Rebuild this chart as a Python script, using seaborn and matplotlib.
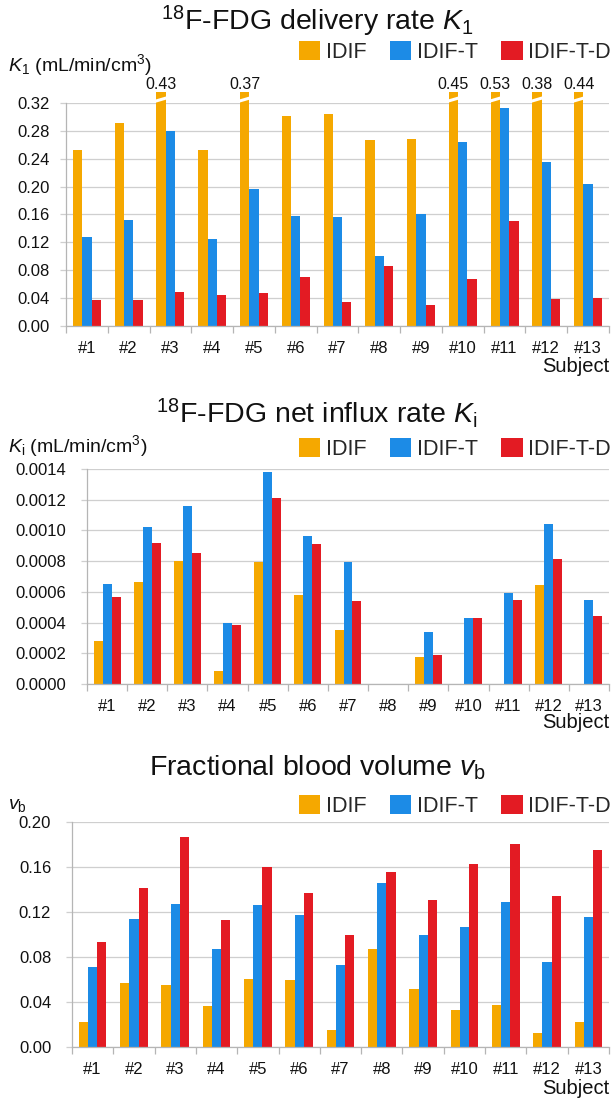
import numpy as np
import pandas as pd
import matplotlib
matplotlib.use("Agg")
import matplotlib.pyplot as plt
import seaborn as sns
from matplotlib.ticker import FormatStrFormatter, FixedLocator

# ---------------- data ----------------
subjects = [f"#{i}" for i in range(1, 14)]
methods = ["IDIF", "IDIF-T", "IDIF-T-D"]
colors = ["#F5A800", "#1C8BE6", "#E31B23"]

k1_idif = [0.253, 0.291, 0.43, 0.2525, 0.37, 0.302, 0.304, 0.267, 0.268, 0.45, 0.53, 0.38, 0.44]
k1_idif_t = [0.127, 0.152, 0.280, 0.125, 0.197, 0.158, 0.157, 0.100, 0.160, 0.264, 0.313, 0.235, 0.204]
k1_idif_t_d = [0.038, 0.0375, 0.049, 0.044, 0.048, 0.070, 0.035, 0.086, 0.030, 0.068, 0.151, 0.039, 0.040]

ki_idif = [0.000281, 0.000666, 0.000803, 0.0000846, 0.000793, 0.000577, 0.000353, 0.0, 0.000175, 0.0, 0.0, 0.000645, 0.0]
ki_idif_t = [0.000649, 0.00102, 0.00116, 0.000395, 0.00138, 0.000962, 0.000797, 0.0, 0.000338, 0.000429, 0.000592, 0.00104, 0.000545]
ki_idif_t_d = [0.000565, 0.00092, 0.000854, 0.000385, 0.00121, 0.000909, 0.000543, 0.0, 0.000188, 0.000433, 0.000548, 0.000814, 0.00044]

vb_idif = [0.0222, 0.0572, 0.0554, 0.0367, 0.0607, 0.0599, 0.0154, 0.0868, 0.0516, 0.0326, 0.0373, 0.0124, 0.0222]
vb_idif_t = [0.0711, 0.1138, 0.127, 0.0871, 0.126, 0.1176, 0.0729, 0.146, 0.0993, 0.107, 0.1286, 0.0753, 0.1156]
vb_idif_t_d = [0.0936, 0.1414, 0.1869, 0.113, 0.1597, 0.1372, 0.0996, 0.156, 0.1308, 0.163, 0.1805, 0.134, 0.1747]

titles = [r"$^{\mathrm{18}}$F-FDG delivery rate $\mathit{K}_{\mathrm{1}}$",
          r"$^{\mathrm{18}}$F-FDG net influx rate $\mathit{K}_{\mathrm{i}}$",
          r"Fractional blood volume $\mathit{v}_{\mathrm{b}}$"]
ylabels = [r"$\mathit{K}_{\mathrm{1}}$ (mL/min/cm$^{\mathrm{3}}$)",
           r"$\mathit{K}_{\mathrm{i}}$ (mL/min/cm$^{\mathrm{3}}$)",
           r"$\mathit{v}_{\mathrm{b}}$"]

# ---------------- style ----------------
sns.set_theme(style="white")
plt.rcParams["font.family"] = ["Liberation Sans", "DejaVu Sans"]
plt.rcParams["mathtext.fontset"] = "custom"
plt.rcParams["mathtext.rm"] = "Liberation Sans"
plt.rcParams["mathtext.it"] = "Liberation Sans:italic"
plt.rcParams["mathtext.bf"] = "Liberation Sans:bold"

W, H = 612, 1103
fig = plt.figure(figsize=(W / 100, H / 100), dpi=100)
fig.patch.set_facecolor("white")

GRID = "#cfcfcf"
SPINE = "#b5b5b5"
TXT = "#111111"


def rect(left, top, right, bottom):
    return [left / W, 1 - bottom / H, (right - left) / W, (bottom - top) / H]


def fy(y):
    return 1 - y / H


def long_df(a, b, c):
    rows = []
    for m, arr in zip(methods, [a, b, c]):
        for s, v in zip(subjects, arr):
            rows.append({"Subject": s, "Method": m, "Value": v})
    return pd.DataFrame(rows)


def panel(box, df, ymax, step, fmt, ypad, title_y, legend_y, ylab_y, subj_y,
          title, ylabel, cap=None):
    ax = fig.add_axes(rect(*box))
    df = df.copy()
    df["Draw"] = df["Value"] if cap is None else df["Value"].clip(upper=cap)
    sns.barplot(data=df, x="Subject", y="Draw", hue="Method", hue_order=methods,
                order=subjects, palette=colors, saturation=1, width=0.67,
                linewidth=0, errorbar=None, ax=ax)
    ax.set_xlim(-0.5, len(subjects) - 0.5)
    ax.set_ylim(0, ymax)
    ticks = np.round(np.arange(0, ymax + step / 2, step), 6)
    ax.yaxis.set_major_locator(FixedLocator(ticks))
    ax.yaxis.set_major_formatter(FormatStrFormatter(fmt))
    ax.yaxis.grid(True, color=GRID, lw=0.9)
    ax.set_axisbelow(True)
    for sp in ["top", "right"]:
        ax.spines[sp].set_visible(False)
    for sp in ["left", "bottom"]:
        ax.spines[sp].set_color(SPINE)
        ax.spines[sp].set_linewidth(0.9)
    ax.tick_params(axis="y", which="major", length=4, color=GRID, width=0.9,
                   labelsize=12, pad=ypad, left=True, labelcolor=TXT)
    ax.tick_params(axis="x", which="major", length=0, labelsize=12, pad=11,
                   labelcolor=TXT)
    ax.xaxis.set_minor_locator(FixedLocator(np.arange(-0.5, len(subjects), 1.0)))
    ax.tick_params(axis="x", which="minor", length=5, color=SPINE, width=0.9,
                   bottom=True, direction="out")
    ax.set_xlabel("")
    ax.set_ylabel("")

    handles, labels = ax.get_legend_handles_labels()
    ax.legend(handles, labels, loc="center right",
              bbox_to_anchor=(611 / W, fy(legend_y)), bbox_transform=fig.transFigure,
              ncol=3, frameon=False, fontsize=15.5, handlelength=1.0, handleheight=1.0,
              handletextpad=0.25, columnspacing=1.1, borderaxespad=0, borderpad=0)

    fig.text(317 / W, fy(title_y), title, ha="center", va="center", fontsize=20.5,
             color=TXT)
    fig.text(8 / W, fy(ylab_y), ylabel, ha="left", va="center", fontsize=14,
             color=TXT)
    fig.text(609 / W, fy(subj_y), "Subject", ha="right", va="center", fontsize=14.5,
             color=TXT)

    if cap is not None:
        # broken bars: white slash and true value label
        vals = df["Value"].to_numpy()
        bars = ax.patches[:len(vals)]
        for p, v in zip(bars, vals):
            if v > ymax:
                x0 = p.get_x()
                w = p.get_width()
                ax.plot([x0 - 0.03, x0 + w + 0.03], [ymax + 0.0025, ymax + 0.0075],
                        color="white", lw=2.2, clip_on=False, zorder=5)
                ax.text(x0 + w / 2, ymax + 0.027, f"{v:.2f}", ha="center",
                        va="center", fontsize=11.5, color=TXT, clip_on=False)
        for p in ax.patches:
            p.set_clip_on(False)
    return ax


df1 = long_df(k1_idif, k1_idif_t, k1_idif_t_d)
df2 = long_df(ki_idif, ki_idif_t, ki_idif_t_d)
df3 = long_df(vb_idif, vb_idif_t, vb_idif_t_d)

panel((66, 103, 609, 326), df1, 0.32, 0.04, "%.2f", 8, 21, 52, 65, 366,
      titles[0], ylabels[0], cap=0.336)
panel((87, 469, 609, 684), df2, 0.0014, 0.0002, "%.4f", 11, 413, 449, 446, 723,
      titles[1], ylabels[1])
panel((72, 822, 609, 1047), df3, 0.20, 0.04, "%.2f", 11, 768, 806, 806, 1088,
      titles[2], ylabels[2])

fig.savefig("out.png", dpi=100, facecolor="white")
